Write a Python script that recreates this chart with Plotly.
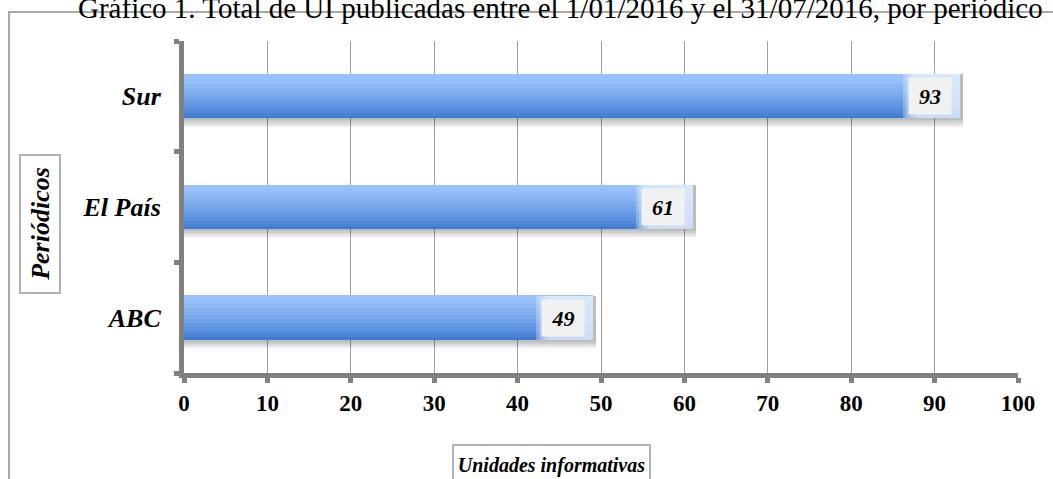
import plotly.graph_objects as go

categories = ["ABC", "El País", "Sur"]
values = [49, 61, 93]
x_ticks = [0, 10, 20, 30, 40, 50, 60, 70, 80, 90, 100]
title_text = "Gráfico 1. Total de UI publicadas entre el 1/01/2016 y el 31/07/2016, por periódico"
x_title = "Unidades informativas"
y_title = "Periódicos"

W, H = 1053, 479
L, R, T, B = 184, 1018, 41, 373
SERIF = "Liberation Serif"


def xp(px):
    return (px - L) / (R - L)


def yp(py):
    return (B - py) / (B - T)


def mix(c1, c2, t):
    return "rgb(%d,%d,%d)" % tuple(round(a + (b - a) * t) for a, b in zip(c1, c2))


pos = list(range(len(categories)))
bw = 0.40
fig = go.Figure()

# soft shadow beneath bars
for k, s in enumerate([0.075, 0.055, 0.035, 0.018]):
    fig.add_trace(go.Bar(
        y=pos, x=[v + 0.35 for v in values], orientation="h",
        width=bw + s, offset=-bw / 2 - s,
        marker=dict(color="rgba(0,0,0,0.07)", line=dict(width=0)),
        hoverinfo="skip", showlegend=False))

# vertical gradient slices
dark = (58, 118, 206)
light = (152, 192, 250)
N = 16
for i in range(N):
    t = (i + 0.5) / N
    tt = min(1.0, t * 1.15) ** 0.8
    fig.add_trace(go.Bar(
        y=pos, x=values, orientation="h",
        width=bw / N + 0.002, offset=-bw / 2 + i * bw / N,
        marker=dict(color=mix(dark, light, tt), line=dict(width=0)),
        hoverinfo="skip", showlegend=False))

# light glow near the bar end
for g in [6.8, 6.4, 6.0, 5.6, 5.2]:
    fig.add_trace(go.Bar(
        y=pos, x=[g] * len(values), base=[v - g for v in values], orientation="h",
        width=bw, offset=-bw / 2,
        marker=dict(color="rgba(228,238,253,0.32)", line=dict(width=0)),
        hoverinfo="skip", showlegend=False))

annotations = []
for p, v in zip(pos, values):
    annotations.append(dict(
        x=v, y=p, xref="x", yref="y", xanchor="right", yanchor="middle",
        xshift=-8, text="<b><i>%d</i></b>" % v, showarrow=False,
        font=dict(family=SERIF, size=22, color="black"),
        bgcolor="#f1f1f1", width=40, height=34))

annotations.append(dict(
    x=xp(560), y=yp(8), xref="paper", yref="paper", xanchor="center", yanchor="middle",
    text=title_text, showarrow=False, font=dict(family=SERIF, size=29, color="black")))

annotations.append(dict(
    x=xp(39.5), y=yp(224.5), xref="paper", yref="paper", xanchor="center", yanchor="middle",
    text="<b><i>%s</i></b>" % y_title, textangle=-90, showarrow=False,
    font=dict(family=SERIF, size=26, color="black"),
    bordercolor="#b3b3b3", borderwidth=2, bgcolor="white", width=134, height=36))

annotations.append(dict(
    x=xp(551.5), y=yp(465), xref="paper", yref="paper", xanchor="center", yanchor="middle",
    text="<b><i>%s</i></b>" % x_title, showarrow=False,
    font=dict(family=SERIF, size=20, color="black"),
    bordercolor="#b3b3b3", borderwidth=2, bgcolor="white", width=193, height=36))

shapes = [dict(type="rect", xref="paper", yref="paper",
               x0=xp(9), x1=xp(1070), y0=yp(12), y1=yp(500),
               line=dict(color="#a8a8a8", width=2), layer="below")]

fig.update_layout(
    width=W, height=H,
    margin=dict(l=L, r=W - R, t=T, b=H - B, pad=0),
    paper_bgcolor="white", plot_bgcolor="white",
    barmode="overlay", bargap=0,
    annotations=annotations, shapes=shapes,
    showlegend=False,
)

fig.update_xaxes(
    range=[0, 100], tickmode="array", tickvals=x_ticks, ticktext=[str(t) for t in x_ticks],
    showgrid=True, gridcolor="#a0a0a0", gridwidth=1, zeroline=False,
    showline=True, linecolor="#808080", linewidth=5,
    ticks="outside", ticklen=5, tickwidth=5, tickcolor="#808080",
    tickfont=dict(family=SERIF, size=23, color="black", weight="bold"),
    ticklabelstandoff=0,
)

fig.update_yaxes(
    range=[-0.5, 2.5], tickmode="array", tickvals=pos, ticktext=categories,
    showgrid=False, zeroline=False,
    showline=True, linecolor="#808080", linewidth=5,
    ticks="", ticklabelstandoff=13,
    minor=dict(tickmode="linear", tick0=-0.5, dtick=1, ticks="outside", ticklen=5,
               tickwidth=5, tickcolor="#808080", showgrid=False),
    tickfont=dict(family=SERIF, size=26, color="black", weight="bold", style="italic"),
)

fig.write_html("out.html", config={"displayModeBar": False},
               post_script="document.body.style.margin='0';document.body.style.overflow='hidden';")
